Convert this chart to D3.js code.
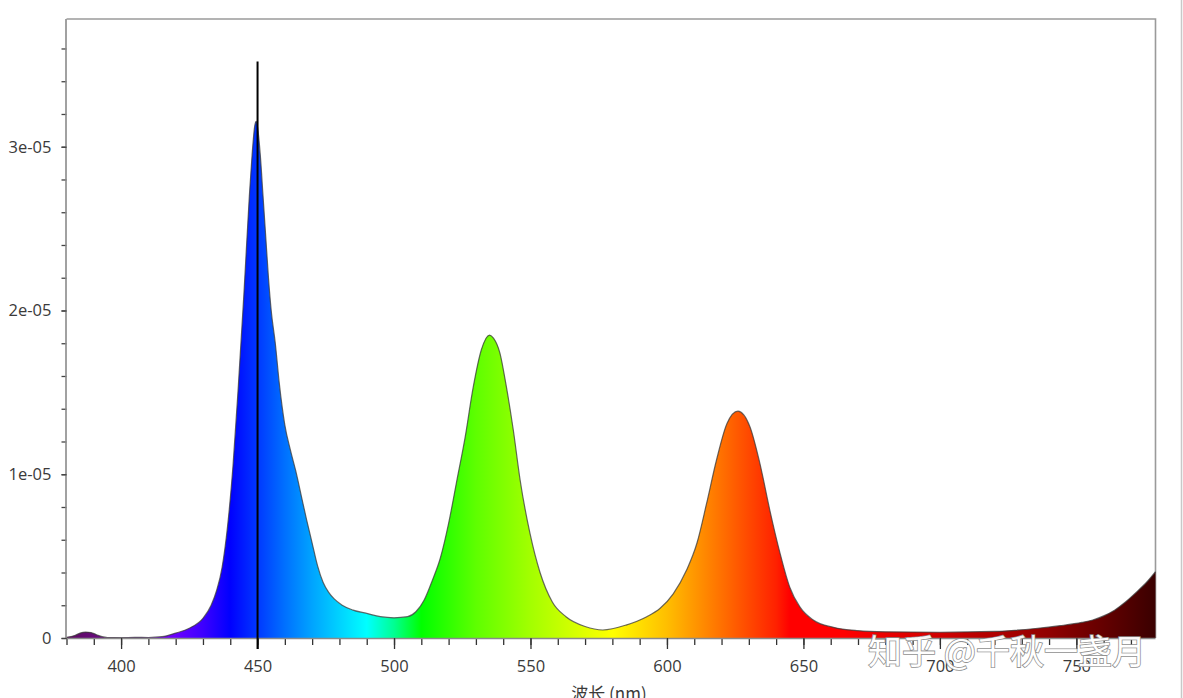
<!DOCTYPE html>
<html>
<head>
<meta charset="utf-8">
<script src="https://cdn.jsdelivr.net/npm/d3@7"></script>
<style>
  html, body { margin: 0; padding: 0; background: #fff; }
  svg { display: block; }
  .tick text { font-family: "Open Sans", "Noto Sans", sans-serif; fill: #3a3a3a; }
</style>
</head>
<body>
<svg id="chart" width="1183" height="698"></svg>
<script>
// ---- data (wavelength in nm, spectral power) ----
const wavelengths = [
  380, 383, 385, 387, 389, 391, 393, 395, 400, 405, 410, 415, 420, 425, 430, 433, 435, 437, 439, 441,
  443, 445, 447, 448, 449, 449.5, 450, 451, 452, 453, 454, 455, 456.5, 458, 460, 462, 464, 466, 468, 470,
  472, 474, 476, 478, 481, 485, 490, 495, 500, 505, 508, 511, 514, 517, 520, 523, 526, 529, 532, 535,
  536.5, 538.8, 541, 543.7, 546.2, 549.8, 553.5, 558, 563, 570, 576.5, 585, 592.6, 597.4, 602.3, 607.2, 611, 614.5, 618.2, 622,
  626, 630.4, 634, 637.7, 641.4, 645, 648.7, 653.6, 661, 670, 680, 700, 720, 735, 744, 752, 756, 760, 764, 768,
  772, 776, 779
];
const power = [
  0.004e-5, 0.015e-5, 0.03e-5, 0.036e-5, 0.033e-5, 0.02e-5, 0.008e-5, 0.003e-5, 0.002e-5, 0.004e-5,
  0.003e-5, 0.008e-5, 0.03e-5, 0.06e-5, 0.12e-5, 0.2e-5, 0.29e-5, 0.43e-5, 0.68e-5, 1.05e-5,
  1.55e-5, 2.1e-5, 2.7e-5, 2.95e-5, 3.13e-5, 3.155e-5, 3.12e-5, 2.95e-5, 2.7e-5, 2.45e-5,
  2.2e-5, 2.0e-5, 1.8e-5, 1.55e-5, 1.3e-5, 1.15e-5, 1.02e-5, 0.87e-5, 0.72e-5, 0.58e-5,
  0.44e-5, 0.34e-5, 0.28e-5, 0.24e-5, 0.2e-5, 0.17e-5, 0.15e-5, 0.13e-5, 0.123e-5, 0.13e-5,
  0.16e-5, 0.23e-5, 0.35e-5, 0.49e-5, 0.7e-5, 0.96e-5, 1.22e-5, 1.53e-5, 1.76e-5, 1.85e-5,
  1.83e-5, 1.74e-5, 1.55e-5, 1.27e-5, 0.965e-5, 0.64e-5, 0.40e-5, 0.22e-5, 0.13e-5, 0.07e-5,
  0.049e-5, 0.079e-5, 0.13e-5, 0.18e-5, 0.27e-5, 0.415e-5, 0.58e-5, 0.82e-5, 1.09e-5, 1.31e-5,
  1.385e-5, 1.29e-5, 1.07e-5, 0.78e-5, 0.52e-5, 0.31e-5, 0.19e-5, 0.11e-5, 0.065e-5, 0.045e-5,
  0.038e-5, 0.035e-5, 0.04e-5, 0.058e-5, 0.075e-5, 0.095e-5, 0.11e-5, 0.135e-5, 0.17e-5, 0.22e-5,
  0.28e-5, 0.345e-5, 0.405e-5
];
const xMajorTicks = [400, 450, 500, 550, 600, 650, 700, 750];
const xMinorTicks = [380, 390, 400, 410, 420, 430, 440, 450, 460, 470, 480, 490, 500, 510, 520, 530, 540, 550,
  560, 570, 580, 590, 600, 610, 620, 630, 640, 650, 660, 670, 680, 690, 700, 710, 720, 730, 740, 750, 760, 770];
const yMajorTicks = [0, 1e-5, 2e-5, 3e-5];
const yTickLabels = ["0", "1e-05", "2e-05", "3e-05"];
const yMinorTicks = [0, 0.2e-5, 0.4e-5, 0.6e-5, 0.8e-5, 1e-5, 1.2e-5, 1.4e-5, 1.6e-5, 1.8e-5, 2e-5,
  2.2e-5, 2.4e-5, 2.6e-5, 2.8e-5, 3e-5, 3.2e-5, 3.4e-5, 3.6e-5];
const markerWavelength = 450;
const markerTop = 3.52e-5;
// spectral colour ramp (wavelength, colour)
const colorStopWl = [380, 395, 410, 420, 430, 440, 450, 460, 470, 480, 490, 500, 510, 530, 550, 570, 580, 600, 620, 640, 645, 665, 700, 740, 779];
const colorStopCol = ["#5c0a5e", "#6a0a86", "#7d00db", "#6a00ff", "#3d00ff", "#0000ff", "#0038ff", "#0070ff", "#00a4ff", "#00d2ff",
  "#00ffff", "#00ff92", "#00ff00", "#5eff00", "#a3ff00", "#e1ff00", "#ffff00", "#ffbe00", "#ff7000", "#ff2100", "#ff0000",
  "#ff0000", "#d00000", "#900000", "#3a0000"];
const xTitle = "波长 (nm)";
const watermark = "知乎 @千秋一盏月";

// ---- layout ----
const plotL = 66.5, plotR = 1155.5, plotT = 19, plotB = 638;
const svg = d3.select("#chart");
const x = d3.scaleLinear().domain([380, 779]).range([plotL, plotR]);
const y = d3.scaleLinear().domain([0, 3.78e-5]).range([plotB, plotT]);

const data = wavelengths.map((w, i) => ({ w, v: power[i] }));

// gradient
const defs = svg.append("defs");
const grad = defs.append("linearGradient")
  .attr("id", "spec").attr("gradientUnits", "userSpaceOnUse")
  .attr("x1", x(380)).attr("x2", x(779)).attr("y1", 0).attr("y2", 0);
colorStopWl.forEach((w, i) => {
  grad.append("stop").attr("offset", (x(w) - x(380)) / (x(779) - x(380))).attr("stop-color", colorStopCol[i]);
});

// frame (top/right)
svg.append("path")
  .attr("d", `M${plotL},${plotT}H${plotR}V${plotB}`)
  .attr("fill", "none").attr("stroke", "#9a9a9a").attr("stroke-width", 1.6);
// outer right border
svg.append("line").attr("x1", 1181.5).attr("x2", 1181.5).attr("y1", 0).attr("y2", 698)
  .attr("stroke", "#c8c8c8").attr("stroke-width", 1.5);

// area
const area = d3.area().x(d => x(d.w)).y0(y(0)).y1(d => y(d.v)).curve(d3.curveMonotoneX);
const line = d3.line().x(d => x(d.w)).y(d => y(d.v)).curve(d3.curveMonotoneX);
svg.append("path").datum(data).attr("d", area).attr("fill", "url(#spec)");
svg.append("path").datum(data).attr("d", line).attr("fill", "none")
  .attr("stroke", "#3a3a3a").attr("stroke-opacity", 0.75).attr("stroke-width", 1.2);

// axes
const xMinor = svg.append("g").attr("transform", `translate(0,${plotB})`)
  .call(d3.axisBottom(x).tickValues(xMinorTicks).tickSize(7).tickFormat(""));
xMinor.select(".domain").remove();
xMinor.selectAll(".tick line").attr("stroke", "#333").attr("stroke-width", 1.3);

const xMajor = svg.append("g").attr("transform", `translate(0,${plotB})`)
  .call(d3.axisBottom(x).tickValues(xMajorTicks).tickSize(11).tickPadding(11).tickFormat(d3.format("d")));
xMajor.select(".domain").attr("stroke", "#8a8a8a").attr("stroke-width", 1.6)
  .attr("d", `M${plotL},0.5H${plotR}`);
xMajor.selectAll(".tick line").attr("stroke", "#333").attr("stroke-width", 1.3);
xMajor.selectAll(".tick text").attr("font-size", 16.5);

const yMinor = svg.append("g").attr("transform", `translate(${plotL},0)`)
  .call(d3.axisLeft(y).tickValues(yMinorTicks).tickSize(5).tickFormat(""));
yMinor.select(".domain").remove();
yMinor.selectAll(".tick line").attr("stroke", "#444").attr("stroke-width", 1.3);

const yMajor = svg.append("g").attr("transform", `translate(${plotL},0)`)
  .call(d3.axisLeft(y).tickValues(yMajorTicks).tickSize(5).tickPadding(10)
    .tickFormat((d, i) => yTickLabels[i]));
yMajor.select(".domain").attr("stroke", "#8a8a8a").attr("stroke-width", 1.6)
  .attr("d", `M-0.5,${plotB}V${plotT}`);
yMajor.selectAll(".tick line").attr("stroke", "#444").attr("stroke-width", 1.3);
yMajor.selectAll(".tick text").attr("font-size", 16.5);

// marker line
svg.append("line")
  .attr("x1", x(markerWavelength)).attr("x2", x(markerWavelength))
  .attr("y1", y(markerTop)).attr("y2", plotB + 11)
  .attr("stroke", "#000").attr("stroke-width", 2);

// x title
svg.append("text").attr("x", 609).attr("y", 700).attr("text-anchor", "middle")
  .attr("font-family", "'Noto Sans CJK SC', 'Open Sans', sans-serif").attr("font-size", 17)
  .attr("fill", "#3a3a3a").text(xTitle);

// watermark
svg.append("text").attr("x", 1007).attr("y", 664).attr("text-anchor", "middle")
  .attr("font-family", "'Noto Sans CJK SC', sans-serif").attr("font-size", 34)
  .attr("fill", "#fff").attr("stroke", "#8c8c8c").attr("stroke-width", 1.6)
  .attr("paint-order", "stroke").attr("opacity", 0.95).text(watermark);
</script>
</body>
</html>
